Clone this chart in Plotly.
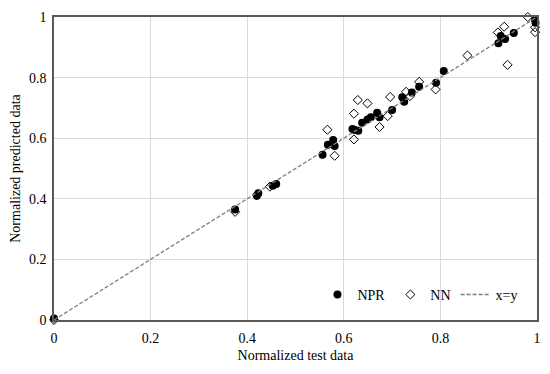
import plotly.graph_objects as go

npr_x = [0.0, 0.375, 0.420, 0.423, 0.453, 0.460, 0.556, 0.567, 0.578, 0.581, 0.618, 0.623, 0.630,
         0.638, 0.649, 0.656, 0.669, 0.674, 0.700, 0.721, 0.725, 0.741, 0.756, 0.791, 0.807,
         0.920, 0.925, 0.934, 0.952, 0.996, 0.997]
npr_y = [0.005, 0.365, 0.410, 0.418, 0.443, 0.449, 0.545, 0.578, 0.594, 0.574, 0.630, 0.627, 0.625,
         0.651, 0.662, 0.669, 0.684, 0.669, 0.693, 0.735, 0.720, 0.751, 0.770, 0.783, 0.822,
         0.913, 0.937, 0.927, 0.947, 0.992, 0.981]

nn_x = [0.0, 0.375, 0.420, 0.447, 0.566, 0.581, 0.621, 0.621, 0.629, 0.649, 0.674, 0.691, 0.696,
        0.729, 0.737, 0.756, 0.790, 0.856, 0.919, 0.932, 0.939, 0.981, 0.996, 0.996]
nn_y = [0.0, 0.357, 0.412, 0.440, 0.628, 0.542, 0.681, 0.596, 0.726, 0.715, 0.637, 0.673, 0.736,
        0.753, 0.739, 0.786, 0.761, 0.873, 0.949, 0.968, 0.842, 1.0, 0.966, 0.950]

line_x = [0, 1]
line_y = [0, 1]

font = "Liberation Serif"

fig = go.Figure()
fig.add_trace(go.Scatter(x=npr_x, y=npr_y, mode="markers", name="NPR",
                         marker=dict(symbol="circle", size=8, color="black"),
                         cliponaxis=False))
fig.add_trace(go.Scatter(x=nn_x, y=nn_y, mode="markers", name="NN",
                         marker=dict(symbol="diamond-open", size=7, color="black",
                                     line=dict(width=1, color="black")),
                         cliponaxis=False))
fig.add_trace(go.Scatter(x=line_x, y=line_y, mode="lines", name="x=y",
                         line=dict(color="#7f7f7f", width=1.3, dash="4px,2px")))

axis_common = dict(range=[0, 1], dtick=0.2, showgrid=True, gridcolor="#d9d9d9", gridwidth=1,
                   showline=True, linecolor="#595959", linewidth=1.5, mirror=True,
                   zeroline=False, ticks="", automargin=False,
                   tickfont=dict(family=font, size=14, color="black"))

fig.update_layout(
    width=542, height=366,
    margin=dict(l=46, r=13, t=9, b=54),
    plot_bgcolor="white", paper_bgcolor="white",
    font=dict(family=font, size=14, color="black"),
    xaxis=dict(title=dict(text="Normalized test data", font=dict(family=font, size=14), standoff=6),
               ticklabelstandoff=4, **axis_common),
    yaxis=dict(title=dict(text="Normalized predicted data", font=dict(family=font, size=14), standoff=10),
               ticklabelstandoff=3, **axis_common),
    legend=dict(orientation="h", x=0.972, y=0.03, xanchor="right", yanchor="bottom",
                bgcolor="rgba(0,0,0,0)", font=dict(family=font, size=14)),
    showlegend=True,
)

fig.write_html("out.html")
